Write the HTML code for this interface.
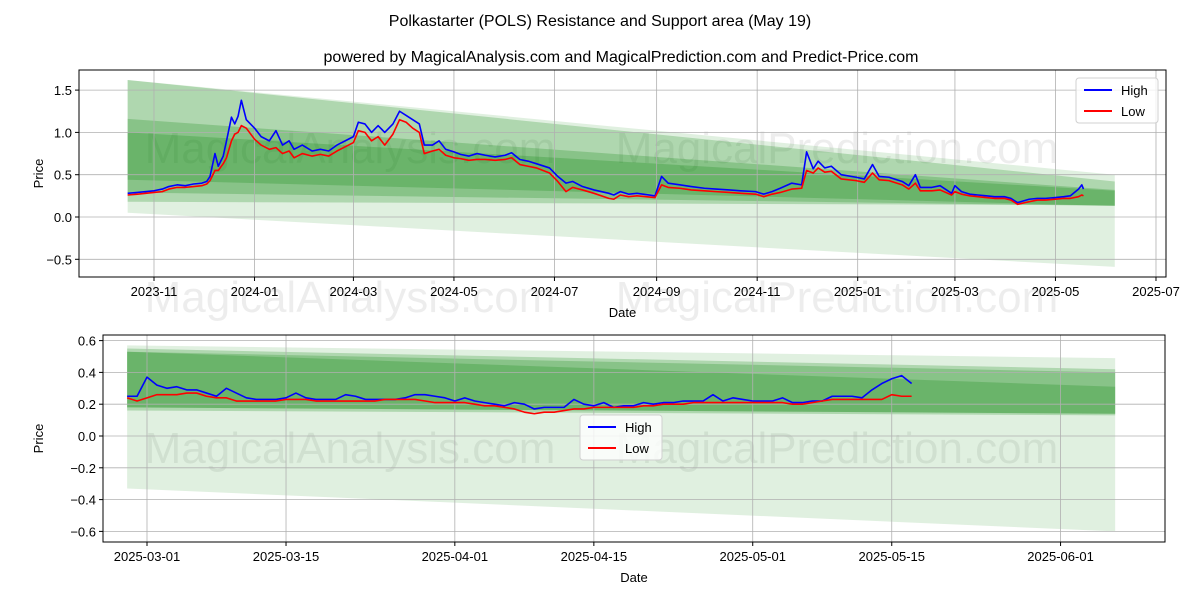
<!DOCTYPE html>
<html><head><meta charset="utf-8"><style>
body{margin:0;background:#fff;}
svg{font-family:"Liberation Sans","DejaVu Sans",sans-serif;}
</style></head><body>
<svg id="c" width="1200" height="600" viewBox="0 0 1200 600" xmlns="http://www.w3.org/2000/svg">
<rect width="1200" height="600" fill="#fff"/>
<text x="600" y="26" text-anchor="middle" font-size="16">Polkastarter (POLS) Resistance and Support area (May 19)</text>
<text x="621" y="62" text-anchor="middle" font-size="16">powered by MagicalAnalysis.com and MagicalPrediction.com and Predict-Price.com</text>
<g id="top"></g>
<g id="bot"></g>
</svg>
<script>
// ---- top chart data ----
const topDates = ["2023-10-16","2023-10-22","2023-11-01","2023-11-06","2023-11-10","2023-11-15","2023-11-20","2023-11-25","2023-11-30","2023-12-03","2023-12-05","2023-12-08","2023-12-10","2023-12-13","2023-12-15","2023-12-18","2023-12-20","2023-12-22","2023-12-24","2023-12-27","2024-01-01","2024-01-05","2024-01-10","2024-01-14","2024-01-18","2024-01-22","2024-01-25","2024-01-30","2024-02-05","2024-02-10","2024-02-15","2024-02-20","2024-02-25","2024-03-01","2024-03-04","2024-03-08","2024-03-12","2024-03-16","2024-03-20","2024-03-25","2024-03-29","2024-04-02","2024-04-06","2024-04-10","2024-04-13","2024-04-18","2024-04-22","2024-04-26","2024-05-01","2024-05-05","2024-05-10","2024-05-15","2024-05-20","2024-05-26","2024-06-01","2024-06-05","2024-06-10","2024-06-15","2024-06-20","2024-06-28","2024-07-03","2024-07-08","2024-07-12","2024-07-18","2024-07-25","2024-08-03","2024-08-06","2024-08-10","2024-08-15","2024-08-20","2024-08-31","2024-09-04","2024-09-08","2024-09-15","2024-09-22","2024-09-30","2024-10-07","2024-10-15","2024-10-22","2024-10-31","2024-11-05","2024-11-10","2024-11-15","2024-11-22","2024-11-28","2024-12-01","2024-12-05","2024-12-08","2024-12-12","2024-12-16","2024-12-22","2024-12-31","2025-01-05","2025-01-10","2025-01-14","2025-01-20","2025-01-28","2025-02-01","2025-02-05","2025-02-08","2025-02-15","2025-02-20","2025-02-27","2025-03-01","2025-03-05","2025-03-10","2025-03-15","2025-03-20","2025-03-25","2025-03-31","2025-04-04","2025-04-08","2025-04-15","2025-04-20","2025-04-25","2025-05-01","2025-05-06","2025-05-10","2025-05-15","2025-05-17","2025-05-18"];
const topHigh = [0.28,0.29,0.31,0.33,0.36,0.38,0.37,0.39,0.40,0.42,0.48,0.75,0.60,0.72,0.90,1.18,1.10,1.19,1.38,1.15,1.05,0.95,0.90,1.02,0.85,0.90,0.80,0.85,0.78,0.80,0.78,0.85,0.90,0.95,1.12,1.10,1.00,1.08,1.00,1.10,1.25,1.20,1.15,1.10,0.85,0.85,0.90,0.80,0.77,0.74,0.72,0.75,0.73,0.71,0.73,0.76,0.68,0.66,0.63,0.58,0.48,0.40,0.42,0.36,0.32,0.28,0.26,0.30,0.27,0.28,0.25,0.48,0.40,0.38,0.36,0.34,0.33,0.32,0.31,0.30,0.27,0.30,0.34,0.40,0.38,0.77,0.57,0.66,0.58,0.60,0.50,0.47,0.45,0.62,0.48,0.47,0.42,0.37,0.50,0.35,0.35,0.37,0.28,0.37,0.30,0.27,0.26,0.25,0.24,0.24,0.22,0.17,0.21,0.22,0.22,0.23,0.24,0.25,0.33,0.38,0.33];
const topLow = [0.26,0.27,0.29,0.30,0.33,0.35,0.35,0.36,0.37,0.39,0.43,0.55,0.55,0.63,0.70,0.90,0.98,1.00,1.08,1.05,0.92,0.85,0.80,0.82,0.75,0.78,0.70,0.75,0.72,0.74,0.72,0.78,0.83,0.88,1.02,1.00,0.90,0.95,0.85,0.98,1.15,1.12,1.05,1.00,0.75,0.78,0.80,0.73,0.70,0.69,0.67,0.68,0.68,0.67,0.68,0.70,0.62,0.60,0.58,0.52,0.42,0.30,0.35,0.32,0.28,0.22,0.21,0.26,0.24,0.25,0.23,0.38,0.35,0.34,0.32,0.31,0.30,0.29,0.28,0.27,0.24,0.27,0.29,0.33,0.34,0.55,0.52,0.58,0.53,0.54,0.45,0.43,0.41,0.52,0.44,0.43,0.38,0.33,0.40,0.31,0.31,0.32,0.26,0.30,0.27,0.25,0.24,0.23,0.22,0.22,0.20,0.15,0.18,0.20,0.20,0.21,0.22,0.22,0.24,0.26,0.25];
const topBandsLo0 = [0.05,0.29,0.44,0.18];
const topBandsHi0 = [1.62,1.62,1.16,1.00];
const topBandsLo1 = [-0.59,0.13,0.13,0.14];
const topBandsHi1 = [0.50,0.42,0.32,0.31];
const topYTicks = [1.5,1.0,0.5,0.0,-0.5];
const topXTicks = ["2023-11","2024-01","2024-03","2024-05","2024-07","2024-09","2024-11","2025-01","2025-03","2025-05","2025-07"];
// ---- bottom chart data ----
const botStart = "2025-02-27";
const botHigh = [0.25,0.25,0.37,0.32,0.30,0.31,0.29,0.29,0.27,0.25,
0.30,0.27,0.24,0.23,0.23,0.23,0.24,0.27,0.24,0.23,
0.23,0.23,0.26,0.25,0.23,0.23,0.23,0.23,0.24,0.26,
0.26,0.25,0.24,0.22,0.24,0.22,0.21,0.20,0.19,0.21,
0.20,0.17,0.18,0.18,0.18,0.23,0.20,0.19,0.21,0.18,
0.19,0.19,0.21,0.20,0.21,0.21,0.22,0.22,0.22,0.26,
0.22,0.24,0.23,0.22,0.22,0.22,0.24,0.21,0.21,0.22,
0.22,0.25,0.25,0.25,0.24,0.29,0.33,0.36,0.38,0.33];
const botLow = [0.24,0.22,0.24,0.26,0.26,0.26,0.27,0.27,0.25,0.24,
0.24,0.22,0.22,0.22,0.22,0.22,0.23,0.23,0.23,0.22,
0.22,0.22,0.22,0.22,0.22,0.22,0.23,0.23,0.23,0.23,
0.22,0.21,0.21,0.21,0.21,0.20,0.19,0.19,0.18,0.17,
0.15,0.14,0.15,0.15,0.16,0.17,0.17,0.18,0.18,0.18,
0.18,0.18,0.19,0.19,0.20,0.20,0.20,0.21,0.21,0.21,
0.21,0.21,0.21,0.21,0.21,0.21,0.21,0.20,0.20,0.21,
0.22,0.23,0.23,0.23,0.23,0.23,0.23,0.26,0.25,0.25];
const botBandsLo0 = [-0.33,0.16,0.18,0.18];
const botBandsHi0 = [0.57,0.55,0.53,0.53];
const botBandsLo1 = [-0.60,0.13,0.14,0.14];
const botBandsHi1 = [0.49,0.42,0.40,0.31];
const botYTicks = [0.6,0.4,0.2,0.0,-0.2,-0.4,-0.6];
const botXTicks = ["2025-03-01","2025-03-15","2025-04-01","2025-04-15","2025-05-01","2025-05-15","2025-06-01"];

const NS="http://www.w3.org/2000/svg";
const DAY=86400000;
function dnum(s){const p=s.split("-").map(Number);return Date.UTC(p[0],p[1]-1,p[2]||1)/DAY;}
function mk(parent,tag,attrs){const e=document.createElementNS(NS,tag);for(const k in attrs)e.setAttribute(k,attrs[k]);parent.appendChild(e);return e;}
const alphas=[0.12,0.22,0.22,0.22];

function drawChart(g,cfg){
  const {L,R,T,B,xs,ys,dates,hi,lo,lo0,hi0,lo1,hi1,bs,be,yt,xt,leg,wm}=cfg;
  mk(g,"rect",{x:L,y:T,width:R-L,height:B-T,fill:"#fff"});
  wm.forEach(w=>{const t=mk(g,"text",{x:w[0],y:w[1],"font-size":44,fill:"rgba(0,0,0,0.07)","text-anchor":"middle"});t.textContent=w[2];
  
  });
  for(let i=0;i<lo0.length;i++){
    const x0=xs(bs),x1=xs(be);
    const p=mk(g,"polygon",{points:`${x0},${ys(hi0[i])} ${x1},${ys(hi1[i])} ${x1},${ys(lo1[i])} ${x0},${ys(lo0[i])}`,fill:"#008000","fill-opacity":alphas[i]});
    
    
  }
  yt.forEach(v=>{const y=ys(v);mk(g,"line",{x1:L,x2:R,y1:y,y2:y,stroke:"#b0b0b0","stroke-width":0.8});
    const t=mk(g,"text",{x:L-7,y:y+5,"text-anchor":"end","font-size":13});t.textContent=v.toFixed(1).replace("-","−");
    
    
    mk(g,"line",{x1:L-4,x2:L,y1:y,y2:y,stroke:"#000"});});
  xt.forEach(s=>{const x=xs(dnum(s));mk(g,"line",{x1:x,x2:x,y1:T,y2:B,stroke:"#b0b0b0","stroke-width":0.8});
    const t=mk(g,"text",{x:x,y:B+19,"text-anchor":"middle","font-size":13});t.textContent=s;
    
    
    mk(g,"line",{x1:x,x2:x,y1:B,y2:B+4,stroke:"#000"});});
  const ph=dates.map((d,i)=>xs(d)+","+ys(hi[i])).join(" ");
  const pl=dates.map((d,i)=>xs(d)+","+ys(lo[i])).join(" ");
  const l1=mk(g,"polyline",{points:ph,fill:"none",stroke:"#0000ff","stroke-width":1.6,"stroke-linejoin":"round"});
  
  
  const l2=mk(g,"polyline",{points:pl,fill:"none",stroke:"#ff0000","stroke-width":1.6,"stroke-linejoin":"round"});
  
  
  mk(g,"rect",{x:L,y:T,width:R-L,height:B-T,fill:"none",stroke:"#000","stroke-width":1});
  const xl=mk(g,"text",{x:(L+R)/2,y:B+40,"text-anchor":"middle","font-size":13});xl.textContent="Date";
  
  
  const yl=mk(g,"text",{x:0,y:0,"text-anchor":"middle","font-size":13,transform:`translate(${L-58+(cfg.yoff||0)},${(T+B)/2}) rotate(-90)`});yl.textContent="Price";
  
  
  const lg=mk(g,"g",{});
  
  
  mk(lg,"rect",{x:leg[0],y:leg[1],width:82,height:45,rx:3,fill:"rgba(255,255,255,0.8)",stroke:"#d0d0d0"});
  mk(lg,"line",{x1:leg[0]+8,x2:leg[0]+36,y1:leg[1]+12,y2:leg[1]+12,stroke:"#0000ff","stroke-width":2});
  mk(lg,"line",{x1:leg[0]+8,x2:leg[0]+36,y1:leg[1]+33,y2:leg[1]+33,stroke:"#ff0000","stroke-width":2});
  const a=mk(lg,"text",{x:leg[0]+45,y:leg[1]+17,"font-size":13});a.textContent="High";
  
  
  const b=mk(lg,"text",{x:leg[0]+45,y:leg[1]+38,"font-size":13});b.textContent="Low";
  
  
}
const t0=dnum("2023-11-01");
const topG=document.getElementById("top");


drawChart(topG,{L:79,R:1166,T:70,B:277,
  xs:d=>154+1.648*(d-t0), ys:v=>217-84.6*v,
  dates:topDates.map(dnum),hi:topHigh,lo:topLow,
  lo0:topBandsLo0,hi0:topBandsHi0,lo1:topBandsLo1,hi1:topBandsHi1,
  bs:dnum("2023-10-16"),be:dnum("2025-06-06"),yt:topYTicks,xt:topXTicks,
  leg:[1076,78],wm:[[350,163,"MagicalAnalysis.com"],[837,163,"MagicalPrediction.com"],[350,312,"MagicalAnalysis.com"],[837,312,"MagicalPrediction.com"]],yoff:22});
const b0=dnum("2025-03-01");
const botG=document.getElementById("bot");


const bs0=dnum(botStart);
drawChart(botG,{L:103,R:1165,T:335,B:542,
  xs:d=>147+9.93*(d-b0), ys:v=>436-159*v,
  dates:botHigh.map((_,i)=>bs0+i),hi:botHigh,lo:botLow,
  lo0:botBandsLo0,hi0:botBandsHi0,lo1:botBandsLo1,hi1:botBandsHi1,
  bs:bs0,be:dnum("2025-06-06")+0.5,yt:botYTicks,xt:botXTicks,
  leg:[580,415],wm:[[350,463,"MagicalAnalysis.com"],[837,463,"MagicalPrediction.com"]],yoff:-2});
</script>
</body></html>
